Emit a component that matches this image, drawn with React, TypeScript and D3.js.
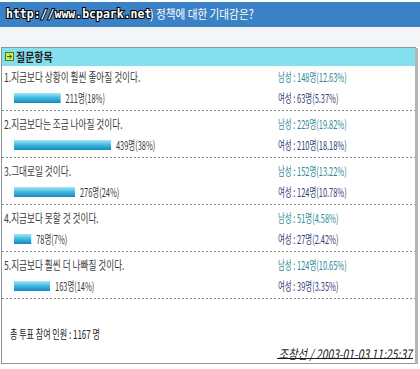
import { useEffect, useRef } from 'react';
import * as d3 from 'd3';

const titleMark = 'http://www.bcpark.net';
const titleText = ') 정책에 대한 기대감은?';
const headerText = '질문항목';
const labels = [
  '1.지금보다 상황이 훨씬 좋아질 것이다.',
  '2.지금보다는 조금 나아질 것이다.',
  '3.그대로일 것이다.',
  '4.지금보다 못할 것 것이다.',
  '5.지금보다 훨씬 더 나빠질 것이다.',
];
const totals = [211, 439, 276, 78, 163];
const totalPcts = [18, 38, 24, 7, 14];
const maleCounts = [148, 229, 152, 51, 124];
const malePcts = ['12.63', '19.82', '13.22', '4.58', '10.65'];
const femaleCounts = [63, 210, 124, 27, 39];
const femalePcts = ['5.37', '18.18', '10.78', '2.42', '3.35'];
const voters = 1167;
const footer = '조창선 / 2003-01-03 11:25:37';

const KR = '"Noto Sans CJK KR", "Noto Sans", sans-serif';

const App: React.FC = () => {
  const svgRef = useRef<SVGSVGElement | null>(null);

  useEffect(() => {
    if (svgRef.current === null) return;
    const width = 420;
    const height = 369;
    const svg = d3.select(svgRef.current);
    svg.selectAll('*').remove();
    svg.attr('width', width).attr('height', height);

    const defs = svg.append('defs');
    const grad = defs
      .append('linearGradient')
      .attr('id', 'barGrad')
      .attr('x1', 0)
      .attr('y1', 0)
      .attr('x2', 0)
      .attr('y2', 1);
    grad.append('stop').attr('offset', '0%').attr('stop-color', '#a8e4f4');
    grad.append('stop').attr('offset', '45%').attr('stop-color', '#45bde3');
    grad.append('stop').attr('offset', '100%').attr('stop-color', '#1787bd');

    // 글자 넣기 (가로로 좁힘)
    const addText = (
      x: number,
      y: number,
      txt: string,
      opts: { size?: number; fill?: string; weight?: string; sx?: number; anchor?: string; family?: string; italic?: boolean } = {}
    ) =>
      svg
        .append('text')
        .attr('transform', `translate(${x},${y}) scale(${opts.sx ?? 0.72},1)`)
        .attr('dominant-baseline', 'central')
        .attr('text-anchor', opts.anchor ?? 'start')
        .attr('font-family', opts.family ?? KR)
        .attr('font-size', opts.size ?? 12)
        .attr('font-weight', opts.weight ?? 'normal')
        .attr('font-style', opts.italic ? 'italic' : 'normal')
        .attr('fill', opts.fill ?? '#3a3a3a')
        .text(txt);

    // 배경
    svg.append('rect').attr('width', width).attr('height', height).attr('fill', '#ffffff');
    svg.append('rect').attr('x', 0).attr('y', 2).attr('width', width).attr('height', 25).attr('fill', '#3b81c5');
    svg.append('rect').attr('x', 0).attr('y', 27).attr('width', width).attr('height', 20).attr('fill', '#f3f5f7');

    // 제목
    svg
      .append('text')
      .attr('x', 6)
      .attr('y', 14)
      .attr('dominant-baseline', 'central')
      .attr('font-family', '"DejaVu Sans Mono", monospace')
      .attr('font-weight', 'bold')
      .attr('font-size', 11.5)
      .attr('fill', '#ffffff')
      .attr('stroke', '#000000')
      .attr('stroke-width', 2)
      .attr('paint-order', 'stroke')
      .text(titleMark);
    addText(150, 14, titleText, { size: 12.5, fill: '#ffffff', sx: 0.85 });

    // 박스
    svg.append('rect').attr('x', 1.5).attr('y', 47.5).attr('width', 414).attr('height', 316).attr('fill', '#ffffff').attr('stroke', '#8c9699');
    svg.append('rect').attr('x', 415).attr('y', 48).attr('width', 3).attr('height', 316).attr('fill', '#b4b4b4');
    svg.append('rect').attr('x', 2).attr('y', 48).attr('width', 413).attr('height', 18).attr('fill', '#84e0ee');

    // 아이콘
    svg.append('rect').attr('x', 5.5).attr('y', 52.5).attr('width', 8).attr('height', 8).attr('fill', '#d6e85a').attr('stroke', '#4a7a20');
    svg.append('path').attr('d', 'M7,56.5 L11,56.5 M9.5,54.5 L11.5,56.5 L9.5,58.5').attr('stroke', '#2a5a10').attr('fill', 'none');
    addText(16, 57, headerText, { weight: 'bold', fill: '#222222', sx: 0.83 });

    const y = d3
      .scaleBand<string>()
      .domain(labels)
      .range([63, 63 + 47 * labels.length])
      .padding(0);
    const x = d3
      .scaleLinear()
      .domain([0, d3.max(totals) as number])
      .range([0, 97]);

    labels.forEach((label, i) => {
      const top = y(label) as number;
      addText(4, top + 14, label);
      svg
        .append('rect')
        .attr('x', 14)
        .attr('y', top + 30)
        .attr('width', x(totals[i]))
        .attr('height', 10)
        .attr('fill', 'url(#barGrad)');
      addText(14 + x(totals[i]) + 5, top + 35, `${totals[i]}명(${totalPcts[i]}%)`, { sx: 0.62 });
      addText(278, top + 14, `남성 : ${maleCounts[i]}명(${malePcts[i]}%)`, { fill: '#2e8a94', sx: 0.62 });
      addText(278, top + 35, `여성 : ${femaleCounts[i]}명(${femalePcts[i]}%)`, { fill: '#34407a', sx: 0.62 });
      svg
        .append('line')
        .attr('x1', 2)
        .attr('x2', 415)
        .attr('y1', top + y.bandwidth() + 0.5)
        .attr('y2', top + y.bandwidth() + 0.5)
        .attr('stroke', '#8a8a8a')
        .attr('stroke-dasharray', '2,2');
    });

    addText(10, 334, `총 투표 참여 인원 : ${voters} 명`, { fill: '#222222', sx: 0.67 });
    addText(412, 353, footer, { anchor: 'end', fill: '#1a1a1a', size: 13, sx: 0.8, italic: true });
    svg.append('line').attr('x1', 277).attr('x2', 413).attr('y1', 358.5).attr('y2', 358.5).attr('stroke', '#1a1a1a');
  }, []);

  return <svg ref={svgRef} style={{ position: 'absolute', left: 0, top: 0 }}></svg>;
};

export default App;
